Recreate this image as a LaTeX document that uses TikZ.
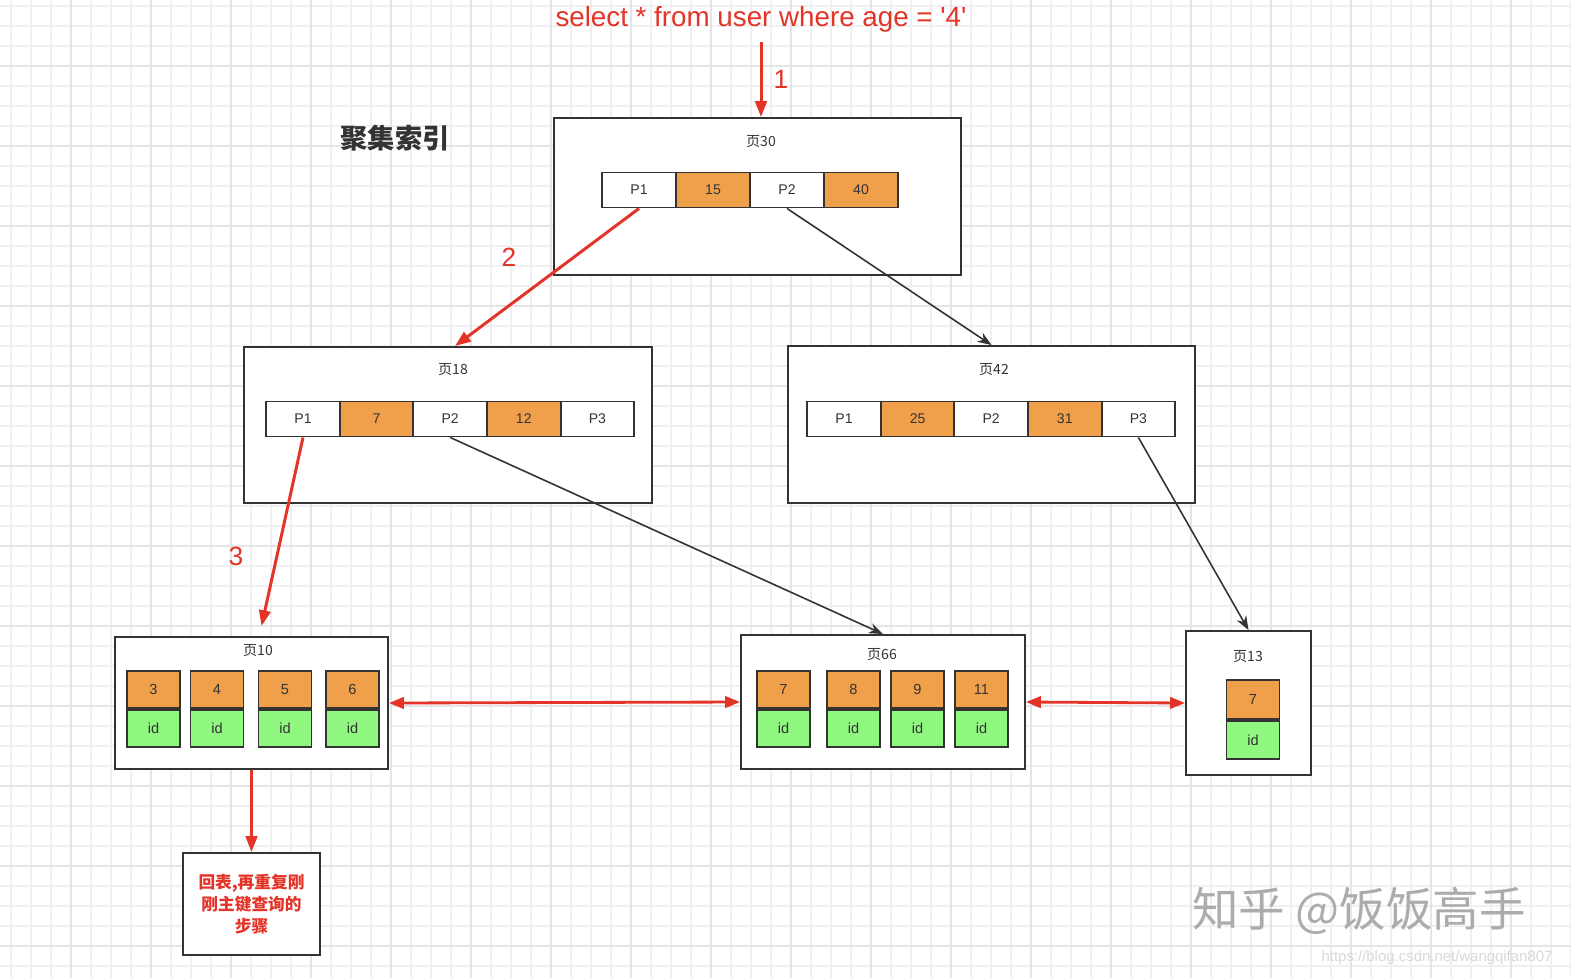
\documentclass[tikz,border=0pt]{standalone}
\usepackage{fontspec}
\setmainfont{Liberation Sans}
\newfontfamily\cjk{Noto Sans CJK SC}
\usetikzlibrary{arrows.meta,calc}
\definecolor{sqlred}{RGB}{228,52,40}
\definecolor{keyorange}{RGB}{240,160,75}
\definecolor{idgreen}{RGB}{144,248,128}
\definecolor{edgegray}{RGB}{51,51,51}
\definecolor{gridminor}{RGB}{240,240,243}
\definecolor{gridmajor}{RGB}{228,228,233}

\begin{document}
\begin{tikzpicture}[x=0.02cm, y=-0.02cm,
    page/.style={draw=edgegray, line width=1.1pt, fill=white, inner sep=0pt},
    cell/.style={draw=edgegray, line width=1.1pt, minimum width=1.47cm, minimum height=0.7cm,
      inner sep=0pt, font=\fontsize{8}{9}\selectfont, text=edgegray},
    leaf/.style={draw=edgegray, line width=1.1pt, minimum width=1.06cm, minimum height=0.74cm,
      inner sep=0pt, font=\fontsize{8.3}{9}\selectfont, text=edgegray},
    pagelabel/.style={font=\cjk\fontsize{8}{9}\selectfont, text=edgegray},
    steplabel/.style={text=sqlred, font=\fontsize{15}{18}\selectfont},
    redarrow/.style={-{Triangle[length=9pt,width=6.5pt]}, draw=sqlred, line width=1.7pt},
    linkarrow/.style={{Triangle[length=8.5pt,width=6.5pt]}-{Triangle[length=8.5pt,width=6.5pt]}, draw=sqlred, line width=1.6pt},
    blackarrow/.style={-{Stealth[length=8pt,width=6pt]}, draw=edgegray, line width=0.9pt}]

  \useasboundingbox (0,0) rectangle (1571,978);
  \fill[white] (0,0) rectangle (1571,978);

  % background grid
  \foreach \x in {11,31,...,1571} \draw[gridminor, line width=0.7pt] (\x,0) -- (\x,978);
  \foreach \y in {6,26,...,978} \draw[gridminor, line width=0.7pt] (0,\y) -- (1571,\y);
  \foreach \x in {71,151,...,1571} \draw[gridmajor, line width=0.8pt] (\x,0) -- (\x,978);
  \foreach \y in {66,146,...,978} \draw[gridmajor, line width=0.8pt] (0,\y) -- (1571,\y);

  % query and title
  \node[text=sqlred, font=\fontsize{15.8}{18}\selectfont] (sql) at (761,19)
    {select * from user where age = \textquotesingle4\textquotesingle};
  \node[font=\cjk\bfseries\fontsize{15.5}{18}\selectfont, text=edgegray] (title) at (395,138) {聚集索引};

  % root page
  \node[page, minimum width=8.14cm, minimum height=3.14cm] (p30) at (757.5,196.5) {};
  \node[pagelabel] (p30l) at (761,142) {页30};
  \foreach \t/\c [count=\i] in {P1/white,15/keyorange,P2/white,40/keyorange}
    \node[cell, fill=\c] (p30c\i) at ({639+74*(\i-1)},190) {\t};

  % inner pages
  \node[page, minimum width=8.16cm, minimum height=3.12cm] (p18) at (448,425) {};
  \node[pagelabel] (p18l) at (453,370) {页18};
  \foreach \t/\c [count=\i] in {P1/white,7/keyorange,P2/white,12/keyorange,P3/white}
    \node[cell, fill=\c] (p18c\i) at ({303+73.6*(\i-1)},419) {\t};

  \node[page, minimum width=8.14cm, minimum height=3.14cm] (p42) at (991.5,424.5) {};
  \node[pagelabel] (p42l) at (994,370) {页42};
  \foreach \t/\c [count=\i] in {P1/white,25/keyorange,P2/white,31/keyorange,P3/white}
    \node[cell, fill=\c] (p42c\i) at ({844+73.6*(\i-1)},419) {\t};

  % leaf pages
  \node[page, minimum width=5.46cm, minimum height=2.64cm] (p10) at (251.5,703) {};
  \node[pagelabel] (p10l) at (258,651) {页10};
  \foreach \k/\x [count=\i] in {3/153.5,4/217,5/285,6/352.5} {
    \node[leaf, fill=keyorange] (p10k\i) at (\x,689.5) {\k};
    \node[leaf, fill=idgreen, anchor=north] (p10id\i) at (p10k\i.south) {id};
  }

  \node[page, minimum width=5.68cm, minimum height=2.68cm] (p66) at (883,702) {};
  \node[pagelabel] (p66l) at (882,655) {页66};
  \foreach \k/\x [count=\i] in {7/783.5,8/853.5,9/917.5,11/981.5} {
    \node[leaf, fill=keyorange] (p66k\i) at (\x,689.5) {\k};
    \node[leaf, fill=idgreen, anchor=north] (p66id\i) at (p66k\i.south) {id};
  }

  \node[page, minimum width=2.5cm, minimum height=2.88cm] (p13) at (1248.5,703) {};
  \node[pagelabel] (p13l) at (1248,657) {页13};
  \node[leaf, fill=keyorange, minimum height=0.78cm] (p13k1) at (1253,699.5) {7};
  \node[leaf, fill=idgreen, anchor=north, minimum height=0.76cm] (p13id1) at (p13k1.south) {id};

  % back to table
  \node[page, minimum width=2.74cm, minimum height=2.04cm, text=sqlred, align=center,
    font=\cjk\bfseries\fontsize{9.5}{12.5}\selectfont] (note) at (251.5,904) {回表,再重复刚\\刚主键查询的\\步骤};

  % search path
  \coordinate (start) at (761,42);
  \draw[redarrow] (start) -- (start |- p30.north);
  \node[steplabel] (s1) at (781,79) {1};
  \draw[redarrow] (p30c1.south) -- ($(p18.north)+(7,0)$);
  \node[steplabel] (s2) at (509,257) {2};
  \draw[redarrow] (p18c1.south) -- ($(p10.north)+(10,-10)$);
  \node[steplabel] (s3) at (236,556) {3};
  \draw[redarrow] (p10.south) -- (note.north);

  % other pointers
  \draw[blackarrow] (p30c3.south) -- (p42.north);
  \draw[blackarrow] (p18c3.south) -- (p66.north);
  \draw[blackarrow] (p42c5.south) -- (p13.north);

  % leaf links
  \draw[linkarrow] (p10.east) -- (p66.west);
  \draw[linkarrow] (p66.east) -- (p13.west);

  % watermark
  \node[text=gray!65, font=\cjk\fontsize{26.5}{30}\selectfont] (mark) at (1359,911) {知乎 @饭饭高手};
  \node[text=gray!30, font=\fontsize{8.5}{10}\selectfont] (url) at (1437,958) {https://blog.csdn.net/wangqifan807};
\end{tikzpicture}
\end{document}
